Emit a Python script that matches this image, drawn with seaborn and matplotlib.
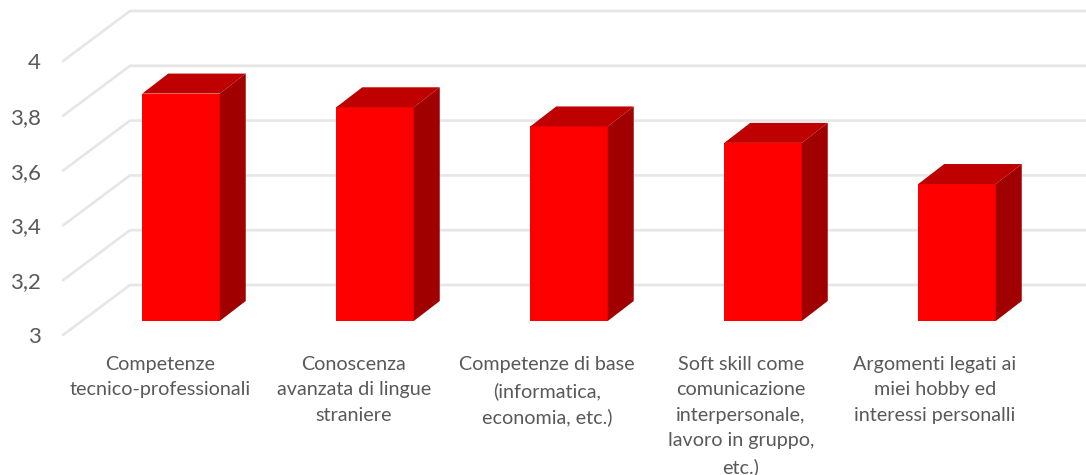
import pandas as pd
import matplotlib
matplotlib.use('Agg')
import matplotlib.pyplot as plt
from matplotlib.patches import Polygon
import seaborn as sns

categories = ['Competenze\ntecnico-professionali',
              'Conoscenza\navanzata di lingue\nstraniere',
              'Competenze di base\n(informatica,\neconomia, etc.)',
              'Soft skill come\ncomunicazione\ninterpersonale,\nlavoro in gruppo,\netc.)',
              'Argomenti legati ai\nmiei hobby ed\ninteressi personalli']
values = [3.83, 3.78, 3.71, 3.65, 3.50]
yticks = [3, 3.2, 3.4, 3.6, 3.8, 4]
ylabels = ['3', '3,2', '3,4', '3,6', '3,8', '4']

# pixel sizes of the fake 3d look, chart is 1086x475
W, H = 1086, 475
px_x = 194.0   # pixels per category
px_y = 274.0   # pixels per 1.0 on the y axis
x0 = 181.0     # pixel centre of first bar
left = 63.0
floor = 335.0

sns.set_style('white')
plt.rcParams['font.family'] = ['Lato', 'DejaVu Sans']

df = pd.DataFrame({'cat': categories, 'val': values})

fig = plt.figure(figsize=(W / 100, H / 100), dpi=100)
ax = fig.add_axes([left / W, (H - floor) / H, (W - left) / W, floor / H])
sns.barplot(data=df, x='cat', y='val', color='#ff0000', saturation=1, width=77.5 / px_x, ax=ax, zorder=3)

ax.set_xlim((left - x0) / px_x, (W - x0) / px_x)
ax.set_ylim(3, 3 + floor / px_y)

# back wall grid with the diagonal going to the front
wall_dx = 67 / px_x
wall_dy = 50 / px_y
xa, xb = ax.get_xlim()
for v in yticks:
    ax.plot([xa, xa + wall_dx, xb], [v, v + wall_dy, v + wall_dy], color='#e6e6e6', lw=1.9,
            zorder=1, solid_joinstyle='miter', clip_on=False)

# bars stand a little in front of the wall floor
lift = 14 / px_y
bar_dx = 26 / px_x
bar_dy = 20 / px_y
for p, v in zip(ax.patches, values):
    p.set_y(3 + lift)
    p.set_height(v - 3)
    p.set_linewidth(0)
    l = p.get_x()
    r = l + p.get_width()
    b = 3 + lift
    t = b + v - 3
    ax.add_patch(Polygon([(l, t), (r, t), (r + bar_dx, t + bar_dy), (l + bar_dx, t + bar_dy)],
                         closed=True, fc='#bf0000', ec='none', zorder=3))
    ax.add_patch(Polygon([(r, b), (r + bar_dx, b + bar_dy), (r + bar_dx, t + bar_dy), (r, t)],
                         closed=True, fc='#a00000', ec='none', zorder=3))

ax.set_yticks(yticks)
ax.set_yticklabels(ylabels, fontsize=16, color='#595959')
# label centres do not sit under the bars in the original
label_px = [160, 354, 547, 741, 935]
ax.set_xticks([(x - x0) / px_x for x in label_px])
ax.set_xticklabels(categories, fontsize=14.2, color='#595959', linespacing=1.6)
ax.tick_params(axis='y', length=0, pad=16)
ax.tick_params(axis='x', length=0, pad=15)
ax.set_xlabel('')
ax.set_ylabel('')
sns.despine(ax=ax, left=True, bottom=True)

fig.savefig('out.png', dpi=100, facecolor='white')
